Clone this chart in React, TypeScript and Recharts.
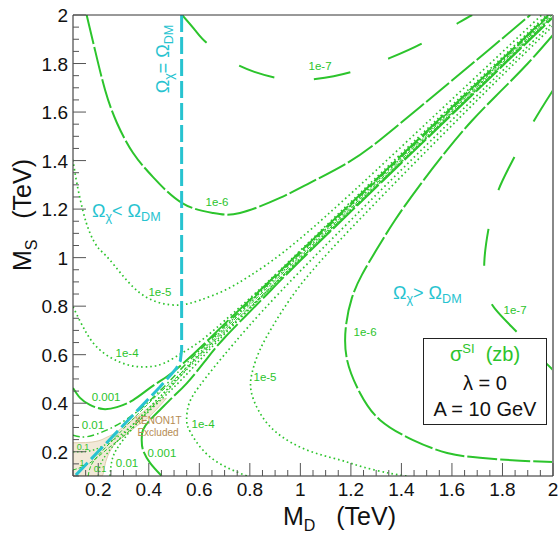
import { ComposedChart, Line, Area, XAxis, YAxis, ReferenceLine, ReferenceDot } from "recharts";

type Pt = [number, number];

const GREEN = "#2cc42c";
const CYAN = "#27c3d0";
const FONT = "'Liberation Sans', Arial, sans-serif";

const axisTicks = [
  0.1, 0.15, 0.2, 0.25, 0.3, 0.35, 0.4, 0.45, 0.5, 0.55, 0.6, 0.65, 0.7, 0.75, 0.8, 0.85, 0.9, 0.95, 1,
  1.05, 1.1, 1.15, 1.2, 1.25, 1.3, 1.35, 1.4, 1.45, 1.5, 1.55, 1.6, 1.65, 1.7, 1.75, 1.8, 1.85, 1.9, 1.95, 2,
];

// relic density boundary (Omega_chi = Omega_DM)
const relicLine: Pt[] = [[0.53, 2.0], [0.53, 0.62], [0.525, 0.575], [0.51, 0.545], [0.49, 0.52], [0.444, 0.467], [0.3, 0.31], [0.108, 0.1]];

// sigma_SI contours, upper branch (M_S > M_D) and lower branch (M_S < M_D)
const c1e7Up: Pt[] = [[0.532, 2.0], [0.583, 1.938], [0.63, 1.885], [0.7, 1.835], [0.76, 1.79], [0.9, 1.742], [1.0, 1.732], [1.06, 1.736], [1.2, 1.765], [1.355, 1.823], [1.486, 1.885], [1.624, 1.967], [1.68, 2.0]];
const c1e7Lo: Pt[] = [[2.0, 1.69], [1.92, 1.555], [1.84, 1.4], [1.78, 1.267], [1.745, 1.12], [1.728, 0.98], [1.735, 0.87], [1.77, 0.79], [1.86, 0.69], [1.94, 0.6], [2.0, 0.537]];
const c1e6Up: Pt[] = [[0.154, 2.0], [0.187, 1.856], [0.227, 1.691], [0.274, 1.555], [0.338, 1.431], [0.417, 1.332], [0.532, 1.225], [0.654, 1.184], [0.761, 1.184], [0.919, 1.246], [1.038, 1.308], [1.185, 1.39], [1.315, 1.485], [1.474, 1.621], [1.6, 1.73], [1.75, 1.86], [1.91, 2.0]];
const c1e6Lo: Pt[] = [[2.0, 1.918], [1.9, 1.8], [1.79, 1.683], [1.68, 1.565], [1.581, 1.444], [1.474, 1.3], [1.375, 1.155], [1.3, 1.03], [1.244, 0.93], [1.204, 0.834], [1.18, 0.714], [1.185, 0.578], [1.236, 0.442], [1.315, 0.331], [1.446, 0.248], [1.581, 0.195], [1.711, 0.175], [1.87, 0.163], [2.0, 0.158]];
const c1e5Up: Pt[] = [[0.1, 1.403], [0.115, 1.308], [0.14, 1.19], [0.167, 1.102], [0.2, 1.04], [0.246, 0.99], [0.338, 0.879], [0.433, 0.817], [0.524, 0.805], [0.603, 0.825], [0.7, 0.865], [0.8, 0.925], [0.93, 1.02], [1.1, 1.17], [1.3, 1.36], [1.5, 1.555], [1.7, 1.75], [1.955, 2.0]];
const c1e5Lo: Pt[] = [[1.42, 0.1], [1.35, 0.112], [1.248, 0.137], [1.157, 0.166], [1.026, 0.207], [0.908, 0.277], [0.84, 0.36], [0.805, 0.45], [0.81, 0.53], [0.84, 0.62], [0.892, 0.72], [0.96, 0.83], [1.05, 0.95], [1.2, 1.12], [1.4, 1.335], [1.6, 1.545], [1.8, 1.752], [2.0, 1.955]];
const c1e4Up: Pt[] = [[0.1, 0.798], [0.154, 0.688], [0.207, 0.619], [0.273, 0.575], [0.339, 0.553], [0.4, 0.55], [0.46, 0.565], [0.532, 0.607], [0.603, 0.655], [0.7, 0.74], [0.85, 0.88], [1.0, 1.03], [1.3, 1.33], [1.6, 1.628], [1.975, 2.0]];
const c1e4Lo: Pt[] = [[0.788, 0.1], [0.7, 0.14], [0.62, 0.2], [0.565, 0.28], [0.55, 0.33], [0.56, 0.4], [0.6, 0.47], [0.66, 0.55], [0.74, 0.65], [0.85, 0.78], [1.0, 0.945], [1.2, 1.155], [1.5, 1.465], [1.8, 1.77], [2.0, 1.97]];
const c1e3Up: Pt[] = [[0.1, 0.463], [0.128, 0.422], [0.167, 0.393], [0.219, 0.376], [0.274, 0.384], [0.338, 0.413], [0.405, 0.463], [0.472, 0.51], [0.532, 0.56], [0.62, 0.645], [0.7, 0.727], [0.85, 0.875], [1.0, 1.025], [1.3, 1.322], [1.6, 1.62], [1.982, 2.0]];
const c1e3Lo: Pt[] = [[0.451, 0.1], [0.405, 0.154], [0.377, 0.207], [0.372, 0.248], [0.377, 0.29], [0.405, 0.331], [0.444, 0.372], [0.496, 0.426], [0.551, 0.483], [0.62, 0.57], [0.7, 0.67], [0.85, 0.83], [1.0, 0.988], [1.3, 1.29], [1.6, 1.59], [2.0, 1.99]];
const c1e2Up: Pt[] = [[0.1, 0.268], [0.155, 0.262], [0.235, 0.29], [0.314, 0.335], [0.393, 0.4], [0.472, 0.48], [0.55, 0.565], [0.7, 0.718], [1.0, 1.018], [1.3, 1.316], [1.6, 1.614], [1.987, 2.0]];
const c1e2Lo: Pt[] = [[0.247, 0.1], [0.258, 0.178], [0.298, 0.248], [0.365, 0.33], [0.444, 0.41], [0.532, 0.5], [0.62, 0.598], [0.7, 0.685], [1.0, 0.997], [1.3, 1.297], [1.6, 1.597], [2.0, 1.997]];
const c1e1Up: Pt[] = [[0.1, 0.2], [0.18, 0.207], [0.258, 0.248], [0.326, 0.302], [0.4, 0.38], [0.47, 0.455], [0.55, 0.55], [0.7, 0.712], [1.0, 1.013], [1.5, 1.512], [1.99, 2.0]];
const c1e1Lo: Pt[] = [[0.2, 0.1], [0.21, 0.15], [0.24, 0.2], [0.29, 0.26], [0.35, 0.325], [0.42, 0.4], [0.5, 0.485], [0.6, 0.59], [0.8, 0.792], [1.2, 1.193], [1.6, 1.594], [2.0, 1.994]];
const c1Up: Pt[] = [[0.1, 0.125], [0.167, 0.154], [0.246, 0.22], [0.314, 0.277], [0.4, 0.37], [0.5, 0.48], [0.6, 0.6], [0.8, 0.806], [1.2, 1.205], [1.6, 1.605], [1.996, 2.0]];
const c1Lo: Pt[] = [[0.16, 0.1], [0.17, 0.14], [0.2, 0.185], [0.25, 0.24], [0.3, 0.295], [0.4, 0.4], [0.5, 0.497], [0.6, 0.598], [0.8, 0.797], [1.2, 1.197], [1.6, 1.597], [2.0, 1.997]];

// XENON1T excluded region (lower / upper edge)
const xenonX = [0.1, 0.15, 0.2, 0.215, 0.23, 0.26, 0.3, 0.35, 0.4, 0.44, 0.47];
const xenonLo = [0.1, 0.1, 0.1, 0.1, 0.16, 0.225, 0.262, 0.304, 0.343, 0.385, 0.42];
const xenonHi = [0.237, 0.238, 0.245, 0.25, 0.258, 0.273, 0.303, 0.342, 0.382, 0.41, 0.42];

// contour labels
const labelText = ["1e-7", "1e-6", "1e-5", "1e-4", "0.001", "0.01", "0.1", "1", "0.1", "0.01", "0.001", "1e-4", "1e-5", "1e-6", "1e-7"];
const labelX = [1.078, 0.67, 0.444, 0.314, 0.231, 0.179, 0.14, 0.136, 0.207, 0.314, 0.452, 0.615, 0.86, 1.256, 1.85];
const labelY = [1.79, 1.229, 0.858, 0.607, 0.426, 0.31, 0.22, 0.154, 0.129, 0.154, 0.195, 0.314, 0.508, 0.694, 0.784];

const rows = (pts: Pt[]) => pts.map(([x, y]) => ({ x, y }));

const xenonRows = xenonX.map((x, i) => ({ x, r: [xenonLo[i], xenonHi[i]] }));

const contours = [
  { key: "u7", pts: c1e7Up, dash: "37 40", w: 2 },
  { key: "l7", pts: c1e7Lo, dash: "37 40", w: 2 },
  { key: "u6", pts: c1e6Up, dash: "30 3", w: 2 },
  { key: "l6", pts: c1e6Lo, dash: "30 3", w: 2 },
  { key: "u5", pts: c1e5Up, dash: "1.6 3", w: 1.7 },
  { key: "l5", pts: c1e5Lo, dash: "1.6 3", w: 1.7 },
  { key: "u4", pts: c1e4Up, dash: "1.6 3", w: 1.7 },
  { key: "l4", pts: c1e4Lo, dash: "1.6 3", w: 1.7 },
  { key: "u3", pts: c1e3Up, dash: "30 3", w: 2 },
  { key: "l3", pts: c1e3Lo, dash: "30 3", w: 2 },
  { key: "u2", pts: c1e2Up, dash: "7 3 1.6 3", w: 1.5 },
  { key: "l2", pts: c1e2Lo, dash: "1.6 2.6", w: 1.6 },
  { key: "u1", pts: c1e1Up, dash: "1.5 2.5", w: 1.4 },
  { key: "l1", pts: c1e1Lo, dash: "1.5 2.5", w: 1.4 },
  { key: "u0", pts: c1Up, dash: "4 2", w: 1 },
  { key: "l0", pts: c1Lo, dash: "4 2", w: 1 },
];

const isMajor = (v: number) => Math.abs(v * 5 - Math.round(v * 5)) < 1e-6;
const fmt = (v: number) => String(Number(v.toFixed(2)));

const XTick = (props: any) => {
  const { x, y, payload } = props;
  const v = payload.value;
  const major = isMajor(v);
  return (
    <g>
      <line x1={x} x2={x} y1={y} y2={y - (major ? 13 : 6)} stroke="#555" strokeWidth={1} />
      {major && (
        <text x={x} y={y + 20} textAnchor="middle" fontSize={19} fontFamily={FONT} fill="#111">
          {fmt(v)}
        </text>
      )}
    </g>
  );
};

const YTick = (props: any) => {
  const { x, y, payload } = props;
  const v = payload.value;
  const major = isMajor(v);
  return (
    <g>
      <line x1={x} x2={x + (major ? 13 : 6)} y1={y} y2={y} stroke="#555" strokeWidth={1} />
      {major && (
        <text x={x - 5} y={y + 7} textAnchor="end" fontSize={19} fontFamily={FONT} fill="#111">
          {fmt(v)}
        </text>
      )}
    </g>
  );
};

const sub = { fontSize: "0.7em", position: "relative" as const, top: "0.3em" };

export default function App() {
  return (
    <div style={{ position: "absolute", left: 0, top: 0, width: 559, height: 538, background: "#fff", fontFamily: FONT }}>
      <ComposedChart width={559} height={538} margin={{ top: 15, right: 6, left: 13, bottom: 32 }}>
        <XAxis
          type="number"
          dataKey="x"
          domain={[0.1, 2]}
          ticks={axisTicks}
          interval={0}
          tickSize={0}
          tickMargin={0}
          tickLine={false}
          tick={<XTick />}
          axisLine={{ stroke: "#222" }}
          allowDataOverflow
          height={30}
        />
        <YAxis
          type="number"
          dataKey="y"
          domain={[0.1, 2]}
          ticks={axisTicks}
          interval={0}
          tickSize={0}
          tickMargin={0}
          tickLine={false}
          tick={<YTick />}
          axisLine={{ stroke: "#222" }}
          allowDataOverflow
          width={60}
        />
        <Area
          data={xenonRows}
          dataKey="r"
          type="monotone"
          stroke="#d6c4a0"
          strokeWidth={0.8}
          fill="#f2e9d8"
          fillOpacity={1}
          isAnimationActive={false}
          dot={false}
          activeDot={false}
        />
        {contours.map((c) => (
          <Line
            key={c.key}
            data={rows(c.pts)}
            dataKey="y"
            type="natural"
            stroke={GREEN}
            strokeWidth={c.w}
            strokeDasharray={c.dash}
            dot={false}
            activeDot={false}
            isAnimationActive={false}
          />
        ))}
        <Line
          data={rows(relicLine)}
          dataKey="y"
          type="linear"
          stroke={CYAN}
          strokeWidth={3}
          strokeDasharray="17 5"
          dot={false}
          activeDot={false}
          isAnimationActive={false}
        />
        {labelText.map((t, i) => (
          <ReferenceDot
            key={`lab${i}`}
            x={labelX[i]}
            y={labelY[i]}
            r={0}
            fill="none"
            stroke="none"
            label={{ value: t, position: "center", fill: GREEN, fontSize: t === "0.1" || t === "1" ? 9 : 11.5, fontFamily: FONT }}
          />
        ))}
        <ReferenceLine y={2} stroke="#333" strokeWidth={1} />
        <ReferenceLine x={2} stroke="#888" strokeWidth={2} />
      </ComposedChart>

      <div style={{ position: "absolute", left: 158, top: 415, transform: "translateX(-50%)", fontSize: 10, color: "#b58b52", textAlign: "center", lineHeight: "12px", whiteSpace: "nowrap" }}>
        <div>XENON1T</div>
        <div>Excluded</div>
      </div>

      <div style={{ position: "absolute", left: 163, top: 59, transform: "translate(-50%, -50%) rotate(-90deg)", whiteSpace: "nowrap", fontSize: 18, color: CYAN }}>
        Ω<span style={sub}>χ</span>= Ω<span style={sub}>DM</span>
      </div>
      <div style={{ position: "absolute", left: 92, top: 201, whiteSpace: "nowrap", fontSize: 18, color: CYAN }}>
        Ω<span style={sub}>χ</span>&lt; Ω<span style={sub}>DM</span>
      </div>
      <div style={{ position: "absolute", left: 393, top: 283, whiteSpace: "nowrap", fontSize: 18, color: CYAN }}>
        Ω<span style={sub}>χ</span>&gt; Ω<span style={sub}>DM</span>
      </div>

      <div
        style={{
          position: "absolute",
          left: 423,
          top: 338,
          width: 124,
          height: 87,
          boxSizing: "border-box",
          border: "1.5px solid #222",
          background: "#fff",
          textAlign: "center",
          fontSize: 20,
          lineHeight: "26px",
          paddingTop: 2,
          whiteSpace: "nowrap",
        }}
      >
        <div style={{ color: GREEN }}>
          σ<span style={{ fontSize: 13, position: "relative", top: -8 }}>SI</span>&nbsp;&nbsp;(zb)
        </div>
        <div style={{ color: "#111" }}>λ = 0</div>
        <div style={{ color: "#111" }}>A = 10 GeV</div>
      </div>

      <div style={{ position: "absolute", left: 283, top: 502, whiteSpace: "nowrap", fontSize: 25, lineHeight: "28px", color: "#111" }}>
        M<span style={{ fontSize: 16, position: "relative", top: 6 }}>D</span>&nbsp;&nbsp;&nbsp;(TeV)
      </div>
      <div style={{ position: "absolute", left: 24, top: 215, transform: "translate(-50%, -50%) rotate(-90deg)", whiteSpace: "nowrap", fontSize: 25, lineHeight: "28px", color: "#111" }}>
        M<span style={{ fontSize: 16, position: "relative", top: 6 }}>S</span>&nbsp;&nbsp;&nbsp;(TeV)
      </div>
    </div>
  );
}
